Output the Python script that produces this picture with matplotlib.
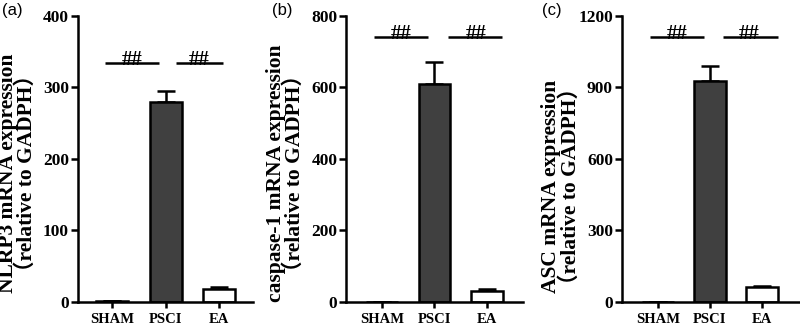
import matplotlib
matplotlib.use("Agg")
import matplotlib.pyplot as plt

groups = ["SHAM", "PSCI", "EA"]
nlrp3_mean = [1, 280, 18]
nlrp3_err = [0, 15, 3]
casp1_mean = [1, 610, 32]
casp1_err = [0, 62, 4]
asc_mean = [1, 925, 62]
asc_err = [0, 65, 5]

ylabels = ["NLRP3 mRNA expression\n（relative to GADPH）",
           "caspase-1 mRNA expression\n（relative to GADPH）",
           "ASC mRNA expression\n（relative to GADPH）"]
panel_labels = ["(a)", "(b)", "(c)"]
yticks_list = [[0, 100, 200, 300, 400], [0, 200, 400, 600, 800], [0, 300, 600, 900, 1200]]
sig_y = [334, 742, 1112]
sig_label = "##"

means = [nlrp3_mean, casp1_mean, asc_mean]
errs = [nlrp3_err, casp1_err, asc_err]

plt.rcParams["font.family"] = ["Liberation Serif", "Noto Sans CJK SC"]
plt.rcParams["font.weight"] = "bold"
plt.rcParams["axes.labelweight"] = "bold"
lw = 1.8

fig = plt.figure(figsize=(8, 3.24), dpi=100)
ax_rects = [[0.0975, 0.068, 0.219, 0.883],
            [0.433, 0.068, 0.2206, 0.883],
            [0.7775, 0.068, 0.2225, 0.883]]
xlims = [(-0.636, 2.636), (-0.676, 2.686), (-0.69, 2.73)]
sig_lines = [[(-0.13, 0.87), (1.19, 2.07)],
             [(-0.15, 0.88), (1.26, 2.29)],
             [(-0.15, 0.88), (1.25, 2.31)]]
sig_text_x = [[0.38, 1.63], [0.37, 1.80], [0.37, 1.75]]
label_x = [0.003, 0.340, 0.677]
ylabel_pos = [(-0.234, 0.45), (-0.235, 0.45), (-0.234, 0.405)]
colors = ["white", "#404040", "white"]

for i in range(3):
    ax = fig.add_axes(ax_rects[i])
    x = list(range(len(groups)))
    ax.bar(x, means[i], width=0.6, color=colors, edgecolor="black", linewidth=lw, zorder=2)
    ax.errorbar(x, means[i], yerr=[[0] * 3, errs[i]], fmt="none", ecolor="black",
                elinewidth=lw, capsize=6.5, capthick=lw, zorder=1)
    top = yticks_list[i][-1]
    ax.set_ylim(0, top)
    ax.set_xlim(*xlims[i])
    ax.set_yticks(yticks_list[i])
    ax.set_xticks(x)
    ax.set_xticklabels(groups)
    for s in ["top", "right"]:
        ax.spines[s].set_visible(False)
    for s in ["left", "bottom"]:
        ax.spines[s].set_linewidth(lw)
    ax.tick_params(axis="y", width=lw, length=5, direction="out", pad=1.5, labelsize=12.5)
    ax.tick_params(axis="x", width=lw, length=4, direction="out", pad=4, labelsize=10.5)
    ax.set_ylabel(ylabels[i], fontsize=15.5, fontweight="bold", linespacing=0.9)
    ax.yaxis.set_label_coords(*ylabel_pos[i])
    for (x0, x1), tx in zip(sig_lines[i], sig_text_x[i]):
        ax.plot([x0, x1], [sig_y[i], sig_y[i]], color="black", lw=lw,
                solid_capstyle="butt", clip_on=False)
        ax.text(tx, sig_y[i] - top * 0.008, sig_label, ha="center", va="baseline",
                fontsize=15, fontweight="bold")
    fig.text(label_x[i], 0.99, panel_labels[i], ha="left", va="top",
             fontfamily="Liberation Sans", fontweight="normal", fontsize=12)

fig.savefig("out.png", dpi=100)
